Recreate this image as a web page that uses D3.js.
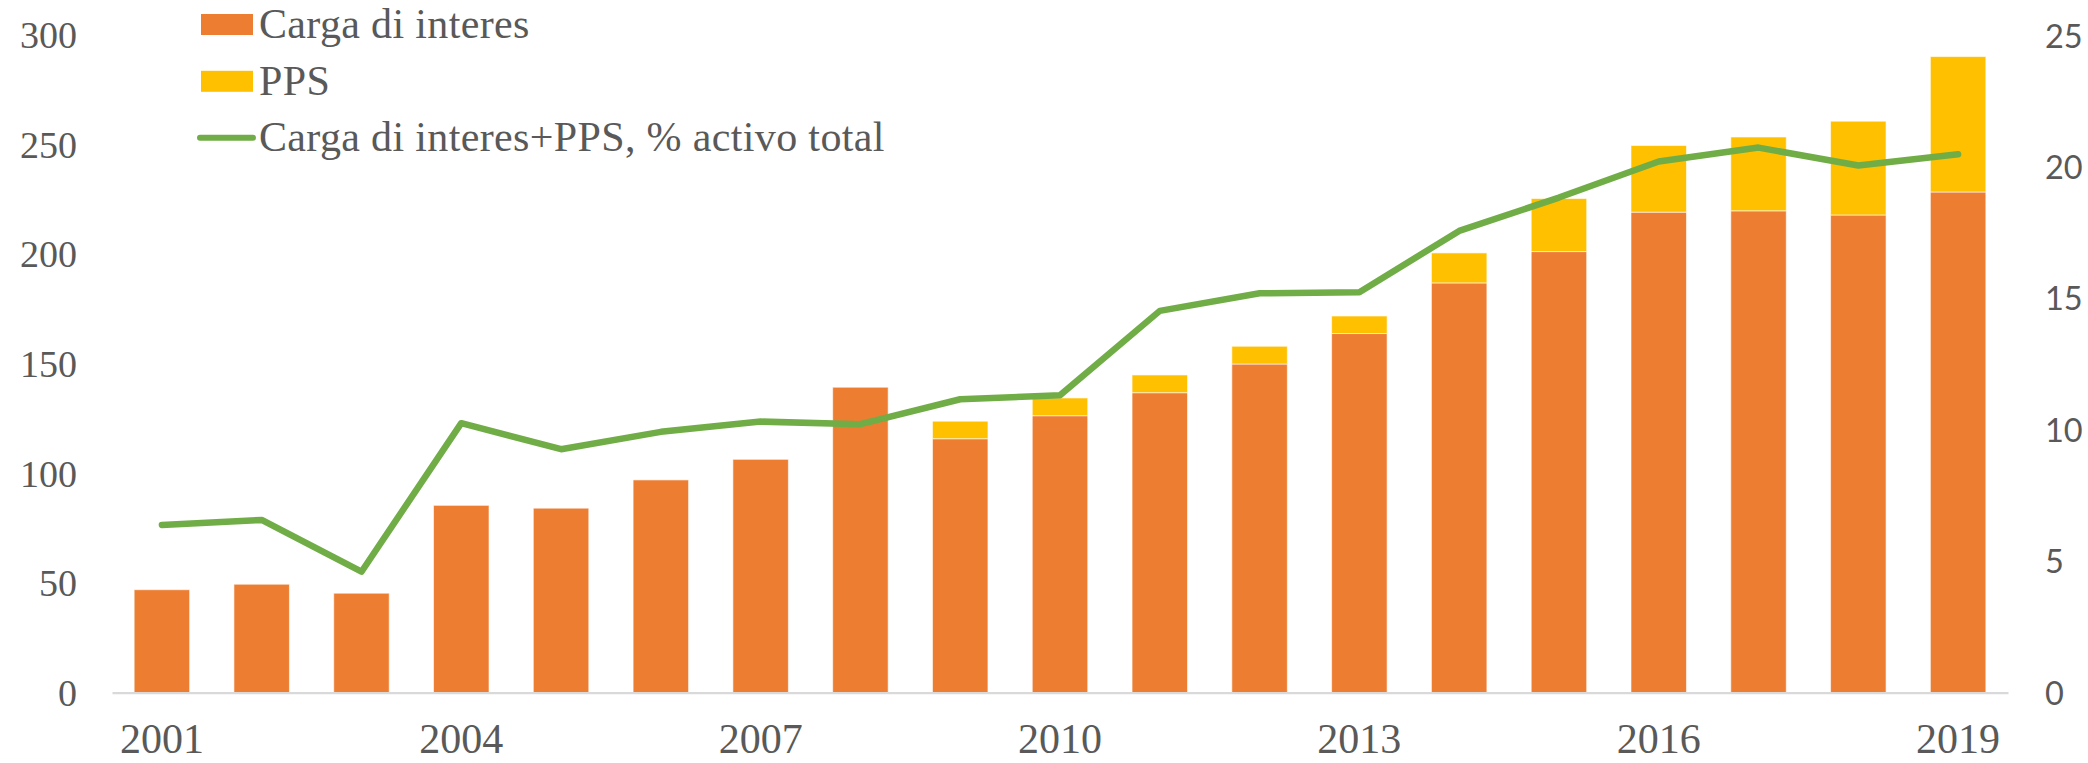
<!DOCTYPE html>
<html>
<head>
<meta charset="utf-8">
<script src="https://d3js.org/d3.v7.min.js"></script>
<style>
  body { margin: 0; background: #fff; }
  svg { display: block; }
</style>
</head>
<body>
<svg id="chart" width="2088" height="763"></svg>
<script>
/*
 * Data
 */
var YEARS = [2001, 2002, 2003, 2004, 2005, 2006, 2007, 2008, 2009, 2010,
             2011, 2012, 2013, 2014, 2015, 2016, 2017, 2018, 2019];
var CARGA = [47, 49.5, 45.4, 85.5, 84.2, 97.1, 106.5, 139.4, 115.9, 126.4,
             136.9, 150, 163.9, 187, 201.3, 219.3, 219.9, 218, 228.5];
var PPS = [0, 0, 0, 0, 0, 0, 0, 0, 8, 8.1,
           8.1, 8.1, 8, 13.7, 24.2, 30.4, 33.7, 42.8, 61.8];
var PCT_ACTIVO = [6.38, 6.57, 4.6, 10.25, 9.26, 9.92, 10.31, 10.21, 11.16, 11.31,
                  14.52, 15.19, 15.23, 17.56, 18.83, 20.2, 20.73, 20.05, 20.48];
var LEFT_TICKS = [0, 50, 100, 150, 200, 250, 300];
var RIGHT_TICKS = [0, 5, 10, 15, 20, 25];
var YEAR_LABELS = [2001, 2004, 2007, 2010, 2013, 2016, 2019];
var LEGEND_LABELS = ['Carga di interes', 'PPS', 'Carga di interes+PPS, % activo total'];

/*
 * Style
 */
var COLOR_CARGA = '#ED7D31',
    COLOR_PPS = '#FFC000',
    COLOR_LINE = '#70AD47',
    COLOR_TEXT = '#595959',
    COLOR_AXIS = '#D9D9D9',
    SERIF = '"Liberation Serif", "Times New Roman", serif',
    SANS = 'Lato, "Open Sans", sans-serif';

var X0 = 112, X1 = 2008, Y_BASE = 692.7, Y_TOP = 35.3;

var svg = d3.select('#chart');

/*
 * Scales
 */
var x = d3.scaleBand()
    .domain(YEARS)
    .range([X0, X1])
    .paddingInner(0.444)
    .paddingOuter(0.222);

var yLeft = d3.scaleLinear().domain([0, 300]).range([Y_BASE, Y_TOP]);
var yRight = d3.scaleLinear().domain([0, 25]).range([Y_BASE, Y_TOP]);

/*
 * Stacked bars
 */
var table = YEARS.map(function (yr, i) {
    return { year: yr, carga: CARGA[i], pps: PPS[i] };
});
var stack = d3.stack().keys(['carga', 'pps']);
var series = stack(table);
var colors = { carga: COLOR_CARGA, pps: COLOR_PPS };

svg.append('g').selectAll('g')
    .data(series)
    .join('g')
    .attr('fill', function (s) { return colors[s.key]; })
    .selectAll('rect')
    .data(function (s) { return s; })
    .join('rect')
    .attr('x', function (d) { return x(d.data.year); })
    .attr('width', x.bandwidth())
    .attr('y', function (d) { return yLeft(d[1]); })
    .attr('height', function (d) { return Math.max(0, yLeft(d[0]) - yLeft(d[1])); })
    .attr('stroke', '#fff')
    .attr('stroke-opacity', 0.6)
    .attr('stroke-width', 1);

/*
 * Axes
 */
var xAxis = svg.append('g')
    .attr('transform', 'translate(0,' + Y_BASE + ')')
    .call(d3.axisBottom(x).tickValues(YEAR_LABELS).tickSize(0).tickSizeOuter(0));
xAxis.select('.domain')
    .attr('stroke', COLOR_AXIS)
    .attr('stroke-width', 2.2);
xAxis.selectAll('text')
    .attr('y', 60)
    .attr('dy', null)
    .attr('fill', COLOR_TEXT)
    .style('font-family', SERIF)
    .style('font-size', '42px');

var leftAxis = svg.append('g')
    .attr('transform', 'translate(77,0)')
    .call(d3.axisLeft(yLeft).tickValues(LEFT_TICKS).tickSize(0).tickPadding(0));
leftAxis.select('.domain').remove();
leftAxis.selectAll('text')
    .attr('fill', COLOR_TEXT)
    .attr('dy', '0.33em')
    .style('font-family', SERIF)
    .style('font-size', '38px');

var rightAxis = svg.append('g')
    .attr('transform', 'translate(2045,0)')
    .call(d3.axisRight(yRight).tickValues(RIGHT_TICKS).tickSize(0).tickPadding(0));
rightAxis.select('.domain').remove();
rightAxis.selectAll('text')
    .attr('fill', COLOR_TEXT)
    .attr('dy', '0.36em')
    .style('font-family', SANS)
    .style('font-size', '32.5px');

/*
 * Line on the right axis
 */
var line = d3.line()
    .x(function (d, i) { return x(YEARS[i]) + x.bandwidth() / 2; })
    .y(function (d) { return yRight(d); });

svg.append('path')
    .datum(PCT_ACTIVO)
    .attr('d', line)
    .attr('fill', 'none')
    .attr('stroke', COLOR_LINE)
    .attr('stroke-width', 6.5)
    .attr('stroke-linejoin', 'round')
    .attr('stroke-linecap', 'round');

/*
 * Legend
 */
var legend = svg.append('g');
var rowY = [24.5, 81.3, 137.7];

legend.append('rect')
    .attr('x', 201).attr('y', rowY[0] - 10.5)
    .attr('width', 52).attr('height', 21)
    .attr('fill', COLOR_CARGA);
legend.append('rect')
    .attr('x', 201).attr('y', rowY[1] - 10.5)
    .attr('width', 52).attr('height', 21)
    .attr('fill', COLOR_PPS);
legend.append('line')
    .attr('x1', 200).attr('x2', 253)
    .attr('y1', rowY[2]).attr('y2', rowY[2])
    .attr('stroke', COLOR_LINE)
    .attr('stroke-width', 6)
    .attr('stroke-linecap', 'round');

legend.selectAll('text')
    .data(LEGEND_LABELS)
    .join('text')
    .attr('x', 259)
    .attr('y', function (d, i) { return rowY[i] + 13.5; })
    .attr('fill', COLOR_TEXT)
    .style('font-family', SERIF)
    .style('font-size', '42px')
    .style('letter-spacing', '0.35px')
    .text(function (d) { return d; });
</script>
</body>
</html>
